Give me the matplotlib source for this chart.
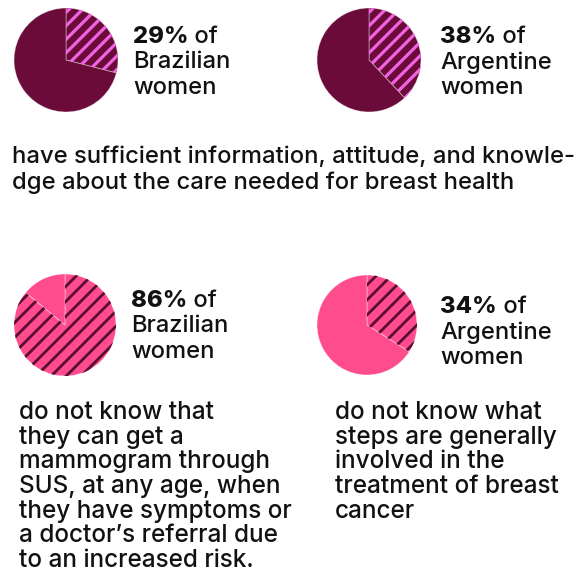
import numpy as np
import matplotlib
matplotlib.use("Agg")
import matplotlib.pyplot as plt

# ---- data ----
shares = [29, 38, 86, 34]
pct_labels = ["29%", "38%", "86%", "34%"]
countries = ["Brazilian", "Argentine", "Brazilian", "Argentine"]

top_caption = ["have sufficient information, attitude, and knowle-",
               "dge about the care needed for breast health"]
left_caption = ["do not know that", "they can get a", "mammogram through",
                "SUS, at any age, when", "they have symptoms or",
                "a doctor\u2019s referral due", "to an increased risk."]
right_caption = ["do not know what", "steps are generally", "involved in the",
                 "treatment of breast", "cancer"]

# ---- styling ----
W, H = 580, 581
DPI = 100
FONT = "Inter"
BODY_WEIGHT = 500
PCT_WEIGHT = 800
MAROON = "#6b0b3a"
LIGHT_STRIPE = "#f064e0"
PINK = "#ff4c8c"
DARK_STRIPE = "#5a0c36"

fig = plt.figure(figsize=(W / DPI, H / DPI), dpi=DPI)
fig.patch.set_facecolor("white")

# pie layout: (cx, cy, r) in pixels from top-left, plus label anchor
pie_geom = [(66, 60, 52), (369, 60, 52), (65, 325, 51), (367, 325, 50)]
label_pos = [(133, 43), (440, 43), (131, 307), (440, 313)]
label_step = 25.5
pie_styles = [
    dict(base=MAROON, stripe=LIGHT_STRIPE, period=13.5, lw=2.3),
    dict(base=MAROON, stripe=LIGHT_STRIPE, period=13.5, lw=2.3),
    dict(base=PINK, stripe=DARK_STRIPE, period=15.0, lw=2.0),
    dict(base=PINK, stripe=DARK_STRIPE, period=15.0, lw=2.0),
]


def draw_pie(share, geom, style):
    cx, cy, r = geom
    ax = fig.add_axes([(cx - r) / W, 1 - (cy + r) / H, 2 * r / W, 2 * r / H])
    wedges, _ = ax.pie([share, 100 - share], startangle=90, counterclock=False,
                       colors=[style["base"], style["base"]], radius=1,
                       wedgeprops=dict(edgecolor=(1, 1, 1, 0.45), linewidth=0.6))
    # diagonal stripes clipped to the highlighted wedge
    step = style["period"] / r
    for c in np.arange(-2.2, 2.2, step):
        xs = np.array([-1.2, 1.2])
        ln, = ax.plot(xs, xs + c, color=style["stripe"], lw=style["lw"],
                      solid_capstyle="butt")
        ln.set_clip_path(wedges[0])
    ax.set_xlim(-1, 1)
    ax.set_ylim(-1, 1)
    ax.set_aspect("equal")
    ax.axis("off")


for s, g, st in zip(shares, pie_geom, pie_styles):
    draw_pie(s, g, st)


def put(x, y, s, size, weight=BODY_WEIGHT):
    return fig.text(x / W, 1 - y / H, s, fontsize=size, family=FONT,
                    weight=weight, va="baseline", ha="left", color="#111111")


renderer = fig.canvas.get_renderer()


def fit_size(text, target_px, base=14, weight=BODY_WEIGHT):
    t = fig.text(0, 0, text, fontsize=base, family=FONT, weight=weight)
    w = t.get_window_extent(renderer).width
    t.remove()
    return base * target_px / w


label_size = fit_size("Brazilian", 97)
body_size = fit_size(top_caption[0], 560)
col_size = fit_size(left_caption[2], 250)

# pie labels: heavy percentage followed by regular text
for (x, y), pct, country in zip(label_pos, pct_labels, countries):
    t = put(x, y, pct, label_size, weight=PCT_WEIGHT)
    wpx = t.get_window_extent(renderer).width
    put(x + wpx, y, " of", label_size)
    put(x, y + label_step, country, label_size)
    put(x, y + 2 * label_step, "women", label_size)

for i, line in enumerate(top_caption):
    put(12, 163 + i * 26, line, body_size)

for i, line in enumerate(left_caption):
    put(19, 419 + i * 24.7, line, col_size)

for i, line in enumerate(right_caption):
    put(335, 419 + i * 24.7, line, col_size)

fig.savefig("out.png", dpi=DPI, facecolor="white")
